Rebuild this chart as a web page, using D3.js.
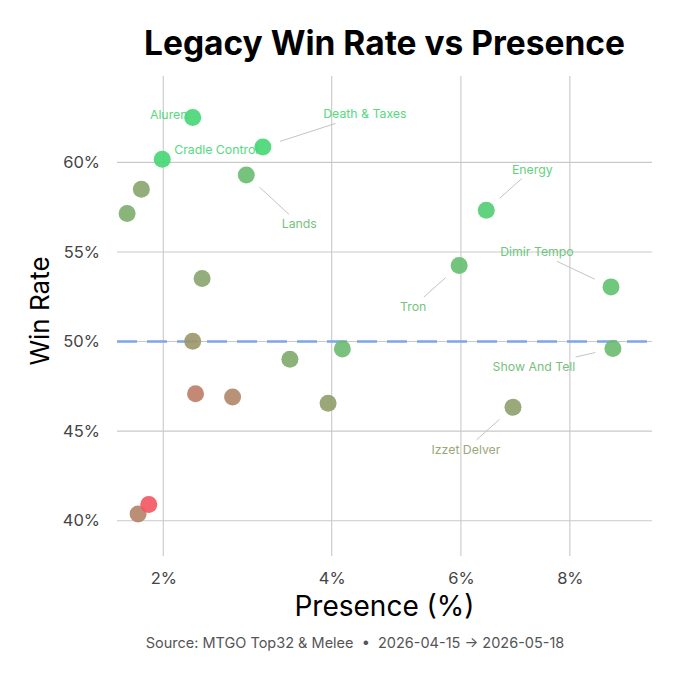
<!DOCTYPE html>
<html>
<head>
<meta charset="utf-8">
<script src="https://cdn.jsdelivr.net/npm/d3@7"></script>
<style>
  html, body { margin: 0; padding: 0; background: #fff; }
  svg { display: block; font-family: Inter, "Noto Sans", sans-serif; }
</style>
</head>
<body>
<div id="chart"></div>
<script>
// deck names ("" = unlabeled)
const decks = ["Aluren", "Cradle Control", "Death & Taxes", "Lands", "", "", "",
  "Energy", "Tron", "Dimir Tempo", "Show And Tell", "Izzet Delver",
  "", "", "", "", "", "", "", ""];
// presence, % of field
const presence = [2.30, 1.99, 3.10, 2.90, 1.79, 1.66, 2.40,
  6.44, 5.97, 8.83, 8.87, 6.92,
  2.30, 3.44, 4.15, 2.33, 2.74, 3.95, 1.76, 1.86];
// win rate, %
const winRate = [62.5, 60.17, 60.86, 59.3, 58.5, 57.14, 53.52,
  57.33, 54.24, 53.05, 49.61, 46.33,
  50.02, 49.01, 49.59, 47.08, 46.91, 46.56, 40.38, 40.9];
// colour score (0 = red, 1 = green)
const score = [1.0, 1.0, 1.0, 0.8, 0.62, 0.68, 0.62,
  0.93, 0.82, 0.84, 0.78, 0.58,
  0.5, 0.66, 0.78, 0.3, 0.38, 0.56, 0.36, 0];

const xTicks = [2, 4, 6, 8];
const yTicks = [40, 45, 50, 55, 60];
const refLine = 50;

// label nudges relative to point (px)
const labelNudge = {
  "Aluren": [-24, -3],
  "Cradle Control": [54, -10],
  "Death & Taxes": [102, -33],
  "Lands": [53, 49],
  "Energy": [46, -41],
  "Tron": [-46, 41],
  "Dimir Tempo": [-74, -35],
  "Show And Tell": [-79, 18],
  "Izzet Delver": [-47, 42]
};

const W = 680, H = 680;
const panel = { left: 117, right: 652, top: 76, bottom: 556 };

const svg = d3.select("#chart").append("svg")
  .attr("width", W).attr("height", H);
svg.append("rect").attr("width", W).attr("height", H).attr("fill", "#fff");

const x = d3.scaleSqrt().domain([1.5706, 9.698]).range([panel.left, panel.right]);
const y = d3.scaleLinear().domain([38.03, 64.82]).range([panel.bottom, panel.top]);
const color = d3.scaleLinear().domain([0, 1]).range(["#f2555f", "#45d673"])
  .interpolate(d3.interpolateRgb);

const data = decks.map((d, i) => ({
  name: d, p: presence[i], w: winRate[i], s: score[i]
}));

// grid
const grid = svg.append("g");
grid.selectAll(".gx").data(xTicks).join("line")
  .attr("x1", d => x(d)).attr("x2", d => x(d))
  .attr("y1", panel.top).attr("y2", panel.bottom)
  .attr("stroke", "#c9c9c9").attr("stroke-width", 1.1);
grid.selectAll(".gy").data(yTicks).join("line")
  .attr("x1", panel.left).attr("x2", panel.right)
  .attr("y1", d => y(d)).attr("y2", d => y(d))
  .attr("stroke", "#c9c9c9").attr("stroke-width", 1.1);

// reference line
svg.append("line")
  .attr("x1", panel.left).attr("x2", panel.right)
  .attr("y1", y(refLine)).attr("y2", y(refLine))
  .attr("stroke", "#7ea5e8").attr("stroke-width", 2.6)
  .attr("stroke-dasharray", "20,10");

// axes (text only)
const xAxis = svg.append("g")
  .attr("transform", `translate(0,${panel.bottom})`)
  .call(d3.axisBottom(x).tickValues(xTicks).tickFormat(d => d + "%").tickSize(0).tickPadding(16));
const yAxis = svg.append("g")
  .attr("transform", `translate(${panel.left},0)`)
  .call(d3.axisLeft(y).tickValues(yTicks).tickFormat(d => d + "%").tickSize(0).tickPadding(17));
[xAxis, yAxis].forEach(a => {
  a.select(".domain").remove();
  a.selectAll("text").attr("fill", "#444").style("font-size", "16.5px")
    .style("font-family", "Inter, sans-serif");
});

// labels + leader lines
const R = 8.5;
const labG = svg.append("g");
data.filter(d => d.name).forEach(d => {
  const px = x(d.p), py = y(d.w);
  const [dx, dy] = labelNudge[d.name];
  const t = labG.append("text")
    .attr("x", px + dx).attr("y", py + dy)
    .attr("text-anchor", "middle").attr("dominant-baseline", "central")
    .attr("fill", color(d.s)).attr("opacity", 0.9)
    .style("font-size", "12.3px")
    .text(d.name);
  const b = t.node().getBBox();
  const pad = 4;
  const bx0 = b.x - pad, bx1 = b.x + b.width + pad, by0 = b.y - pad + 2, by1 = b.y + b.height + pad - 2;
  // clip segment from point to label centre at the padded box
  const cx = px + dx, cy = py + dy;
  const vx = px - cx, vy = py - cy;
  let tt = 1;
  if (vx !== 0) tt = Math.min(tt, Math.abs(((vx > 0 ? bx1 : bx0) - cx) / vx));
  if (vy !== 0) tt = Math.min(tt, Math.abs(((vy > 0 ? by1 : by0) - cy) / vy));
  const ex = cx + vx * tt, ey = cy + vy * tt;
  const len = Math.hypot(px - ex, py - ey);
  const start = 18;
  if (len - start > 8) {
    labG.append("line")
      .attr("x1", px + (ex - px) * start / len).attr("y1", py + (ey - py) * start / len)
      .attr("x2", ex).attr("y2", ey)
      .attr("stroke", "#c4c4c4").attr("stroke-width", 1);
  }
});

// points
svg.append("g").selectAll("circle").data(data).join("circle")
  .attr("cx", d => x(d.p)).attr("cy", d => y(d.w))
  .attr("r", R)
  .attr("fill", d => color(d.s))
  .attr("fill-opacity", 0.9);

// titles
svg.append("text")
  .attr("x", (panel.left + panel.right) / 2).attr("y", 55)
  .attr("text-anchor", "middle")
  .style("font-size", "33.5px").style("font-weight", 700)
  .attr("fill", "#000")
  .text("Legacy Win Rate vs Presence");

svg.append("text")
  .attr("x", (panel.left + panel.right) / 2).attr("y", 616)
  .attr("text-anchor", "middle")
  .style("font-size", "28px")
  .attr("fill", "#000")
  .text("Presence (%)");

svg.append("text")
  .attr("transform", `translate(49,311) rotate(-90)`)
  .attr("text-anchor", "middle")
  .style("font-size", "26px")
  .attr("fill", "#000")
  .text("Win Rate");

svg.append("text")
  .attr("x", 355).attr("y", 648)
  .attr("text-anchor", "middle")
  .style("font-size", "14.5px")
  .attr("fill", "#555")
  .attr("xml:space", "preserve")
  .text("Source: MTGO Top32 & Melee  \u2022  2026-04-15 \u2192 2026-05-18");
</script>
</body>
</html>
